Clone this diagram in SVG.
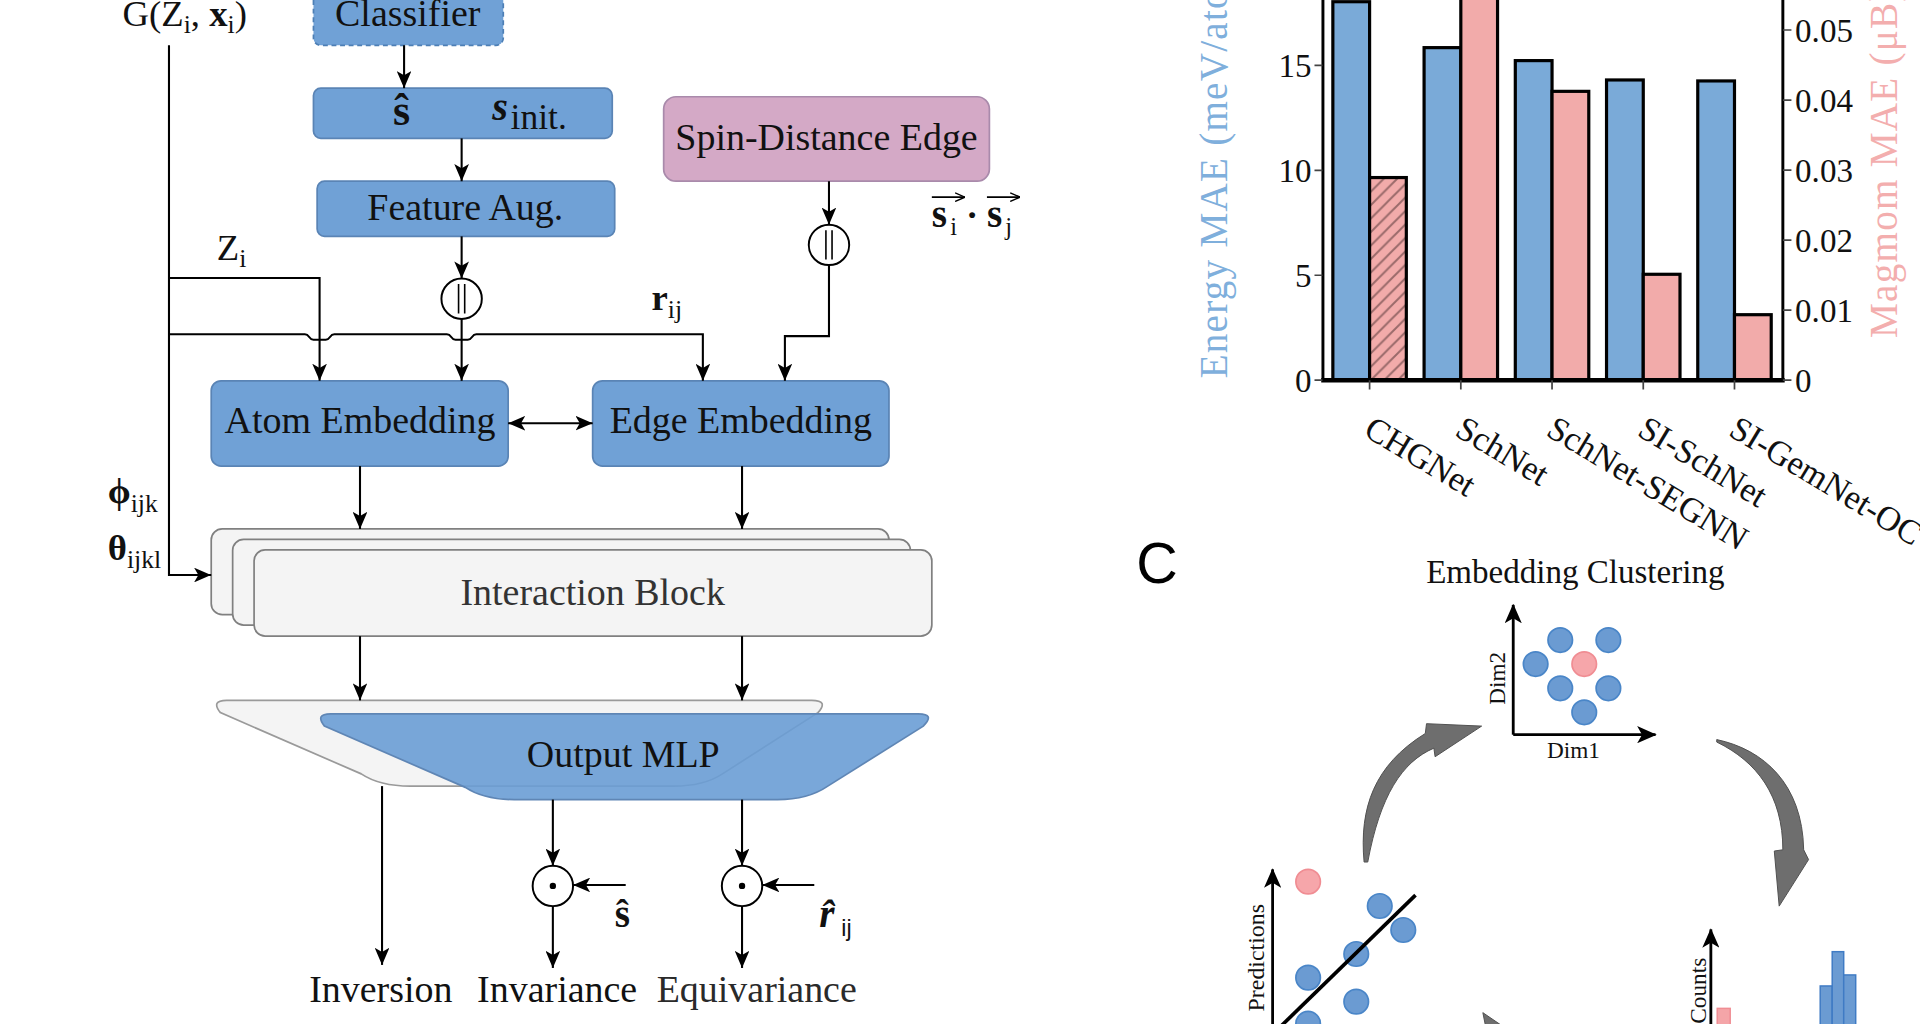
<svg xmlns="http://www.w3.org/2000/svg" width="1920" height="1024" viewBox="0 0 1920 1024">
<defs>
<style>
text { font-family: "Liberation Serif", "Times New Roman", serif; fill: #111; }
.box { fill: #70a1d6; stroke: #5a84b5; stroke-width: 1.4; }
.ib { fill: #f4f4f4; stroke: #808080; stroke-width: 1.4; }
.conn { fill: none; stroke: #000; stroke-width: 1.7; }
.lab { font-size: 31px; text-anchor: middle; }
.tick { font-size: 27px; }
.xt { font-size: 28px; }
.bar { stroke: #000; stroke-width: 2.6; }
.blue { fill: #7aaad8; }
.pink { fill: #f2abaa; }
.dotb { fill: #6b9bd2; stroke: #4a86c8; stroke-width: 1.4; }
.dotp { fill: #f6a6aa; stroke: #f08d93; stroke-width: 1.4; }
.garrow { fill: #6e6e6e; stroke: #4f4f4f; stroke-width: 0.8; }
.axis { fill: none; stroke: #000; stroke-width: 2.3; }
.vec { fill: none; stroke: #000; stroke-width: 1.3; }
</style>
<marker id="ah" viewBox="0 0 14 12" refX="14" refY="6" markerWidth="14" markerHeight="12" orient="auto-start-reverse" markerUnits="userSpaceOnUse">
<path d="M0,0 L14,6 L0,12 L3.5,6 Z" fill="#000"/>
</marker>
<marker id="ax" viewBox="0 0 16 14" refX="15" refY="7" markerWidth="16" markerHeight="14" orient="auto" markerUnits="userSpaceOnUse">
<path d="M0,0 L16,7 L0,14 L4,7 Z" fill="#000"/>
</marker>
<marker id="sm" viewBox="0 0 8 8" refX="8" refY="4" markerWidth="8" markerHeight="8" orient="auto" markerUnits="userSpaceOnUse">
<path d="M0,0.5 L8,4 L0,7.5" fill="none" stroke="#000" stroke-width="1.2"/>
</marker>
<pattern id="hatch" patternUnits="userSpaceOnUse" width="11" height="11">
<rect width="11" height="11" fill="#f2abaa"/>
<path d="M-1,1 L1,-1 M0,11 L11,0 M10,12 L12,10" stroke="#9a6a6a" stroke-width="1.6"/>
</pattern>
</defs>
<rect width="1920" height="1024" fill="#fff"/>
<g transform="scale(1.2244898)">

<!-- ===== Panel A: architecture ===== -->
<g id="input-G">
<text x="100" y="21" font-size="30">G(Z<tspan font-size="21" dy="6">i</tspan><tspan dy="-6">, </tspan><tspan font-weight="bold">x</tspan><tspan font-size="21" dy="6">i</tspan><tspan dy="-6">)</tspan></text>
</g>
<g id="node-classifier">
<rect x="256" y="-12" width="155" height="49" rx="6" fill="#70a1d6" stroke="#4d7fb5" stroke-width="1.4" stroke-dasharray="4 3"/>
<text class="lab" x="333" y="21">Classifier</text>
</g>
<g id="node-spin-init">
<rect class="box" x="256" y="72" width="244" height="41" rx="6"/>
<text x="328" y="102" font-size="36" font-weight="bold" text-anchor="middle">ŝ</text>
<text x="402" y="98" font-size="33" font-weight="bold" font-style="italic">s</text>
<text x="417" y="105" font-size="29">init.</text>
</g>
<g id="node-feature-aug">
<rect class="box" x="259" y="148" width="243" height="45" rx="6"/>
<text class="lab" x="380" y="180">Feature Aug.</text>
</g>
<g id="node-spin-distance">
<rect x="542" y="79" width="266" height="69" rx="10" fill="#d4a9c6" stroke="#a98aab" stroke-width="1.4"/>
<text class="lab" x="675" y="122.5">Spin-Distance Edge</text>
</g>
<g id="concat-1">
<circle cx="377" cy="244" r="16.5" fill="#fff" stroke="#000" stroke-width="1.6"/>
<path d="M374.5 232 V256 M379.5 232 V256" stroke="#000" stroke-width="1.3"/>
</g>
<g id="concat-2">
<circle cx="677" cy="200" r="16.5" fill="#fff" stroke="#000" stroke-width="1.6"/>
<path d="M674.5 188 V212 M679.5 188 V212" stroke="#000" stroke-width="1.3"/>
</g>
<g id="label-sisj">
<text x="761" y="185" font-size="32" font-weight="bold">s</text>
<text x="776" y="192" font-size="20">i</text>
<text x="789" y="185" font-size="30" font-weight="bold">·</text>
<text x="806" y="185" font-size="32" font-weight="bold">s</text>
<text x="821" y="192" font-size="20">j</text>
<path class="vec" d="M761 161 H788" marker-end="url(#sm)"/>
<path class="vec" d="M806 161 H833" marker-end="url(#sm)"/>
</g>
<g id="label-Zi"><text x="177" y="212" font-size="30">Z<tspan font-size="21" dy="6">i</tspan></text></g>
<g id="label-rij"><text x="532" y="253" font-size="30" font-weight="bold">r<tspan font-size="21" font-weight="normal" dy="7">ij</tspan></text></g>
<g id="label-phi"><text x="88" y="411" font-size="30" font-weight="bold">ϕ<tspan font-size="21" font-weight="normal" dy="7">ijk</tspan></text></g>
<g id="label-theta"><text x="88" y="457" font-size="30" font-weight="bold">θ<tspan font-size="21" font-weight="normal" dy="7">ijkl</tspan></text></g>

<g id="node-atom-embedding">
<rect class="box" x="172.5" y="311" width="242.5" height="69.6" rx="8"/>
<text class="lab" x="294" y="354">Atom Embedding</text>
</g>
<g id="node-edge-embedding">
<rect class="box" x="484" y="311" width="242" height="69.6" rx="8"/>
<text class="lab" x="605" y="354">Edge Embedding</text>
</g>
<g id="node-interaction-block">
<rect class="ib" x="172.5" y="432" width="553.5" height="70" rx="9"/>
<rect class="ib" x="190" y="440.5" width="553.5" height="70" rx="9"/>
<rect class="ib" x="207.5" y="449" width="553.5" height="70.5" rx="9"/>
<text class="lab" x="484" y="494" style="fill:#333">Interaction Block</text>
</g>
<g id="node-output-mlp">
<path d="M185 572 L663 572 Q677 572 668 582 L590 632 Q575 642 550 642 L335 642 Q310 642 295 632 L180 582 Q172 572 185 572 Z" fill="#f4f4f4" stroke="#9a9a9a" stroke-width="1.4"/>
<path d="M270 583 L750 583 Q764 583 754 593 L676 642 Q660 653 635 653 L420 653 Q395 653 380 643 L265 593 Q257 583 270 583 Z" fill="#6a9dd5" fill-opacity="0.9" stroke="#5f86b5" stroke-width="1.4"/>
<text class="lab" x="509" y="626">Output MLP</text>
</g>
<g id="op-invariance">
<circle cx="451.5" cy="723.5" r="16.5" fill="#fff" stroke="#000" stroke-width="1.6"/>
<circle cx="451.5" cy="723.5" r="2.6" fill="#000"/>
<text x="502" y="757" font-size="32" font-weight="bold">ŝ</text>
</g>
<g id="op-equivariance">
<circle cx="606" cy="723.5" r="16.5" fill="#fff" stroke="#000" stroke-width="1.6"/>
<circle cx="606" cy="723.5" r="2.6" fill="#000"/>
<text x="669" y="757" font-size="32" font-weight="bold" font-style="italic">r̂</text>
<text x="687" y="764" font-size="19" style="font-family:'Liberation Sans',Arial,sans-serif">ij</text>
</g>
<g id="outputs">
<text class="lab" x="311" y="818">Inversion</text>
<text class="lab" x="455" y="818">Invariance</text>
<text class="lab" x="618" y="818" style="fill:#2a2a2a">Equivariance</text>
</g>

<g id="connectors">
<path class="conn" d="M330 37 V72" marker-end="url(#ah)"/>
<path class="conn" d="M377 113 V148" marker-end="url(#ah)"/>
<path class="conn" d="M377 193 V227.5" marker-end="url(#ah)"/>
<path class="conn" d="M377 260.5 V311" marker-end="url(#ah)"/>
<path class="conn" d="M138 227 H261 V311" marker-end="url(#ah)"/>
<path class="conn" d="M138 273 H249 C253 273 252 277.5 256 277.5 L266 277.5 C270 277.5 269 273 273 273 H365 C369 273 368 277.5 372 277.5 L382 277.5 C386 277.5 385 273 389 273 H574 V311" marker-end="url(#ah)"/>
<path class="conn" d="M138 37 V469.6 H172.5" marker-end="url(#ah)"/>
<path class="conn" d="M677 148 V183.5" marker-end="url(#ah)"/>
<path class="conn" d="M677 216.5 V274.5 H641 V311" marker-end="url(#ah)"/>
<path class="conn" d="M415 345.6 H484" marker-start="url(#ah)" marker-end="url(#ah)"/>
<path class="conn" d="M294 380.6 V432" marker-end="url(#ah)"/>
<path class="conn" d="M606 380.6 V432" marker-end="url(#ah)"/>
<path class="conn" d="M294 519.5 V572" marker-end="url(#ah)"/>
<path class="conn" d="M606 519.5 V572" marker-end="url(#ah)"/>
<path class="conn" d="M312 642 V788" marker-end="url(#ah)"/>
<path class="conn" d="M451.5 653 V707" marker-end="url(#ah)"/>
<path class="conn" d="M451.5 740 V790.5" marker-end="url(#ah)"/>
<path class="conn" d="M511 722.7 H468" marker-end="url(#ah)"/>
<path class="conn" d="M606 653 V707" marker-end="url(#ah)"/>
<path class="conn" d="M606 740 V790.5" marker-end="url(#ah)"/>
<path class="conn" d="M665 722.7 H622.5" marker-end="url(#ah)"/>
</g>

<!-- ===== Panel B: bar chart ===== -->
<g id="chart">
<rect class="bar blue" x="1088.5" y="1.4" width="30" height="309.1"/>
<rect class="bar" x="1118.5" y="145" width="30" height="165.5" fill="url(#hatch)"/>
<rect class="bar blue" x="1163" y="38.9" width="30" height="271.6"/>
<rect class="bar pink" x="1193" y="-10" width="30" height="320.5"/>
<rect class="bar blue" x="1237.5" y="49.5" width="30" height="261"/>
<rect class="bar pink" x="1267.5" y="74.6" width="30" height="235.9"/>
<rect class="bar blue" x="1312" y="65.3" width="30" height="245.2"/>
<rect class="bar pink" x="1342" y="224" width="30" height="86.5"/>
<rect class="bar blue" x="1386.5" y="66.1" width="30" height="244.4"/>
<rect class="bar pink" x="1416.5" y="257" width="30" height="53.5"/>
<path d="M1080.4 -5 V310.5 M1456 -5 V310.5" stroke="#000" stroke-width="2.4" fill="none"/>
<path d="M1079 310.5 H1457.5" stroke="#000" stroke-width="3.6"/>
<path d="M1073.5 53.4 H1080 M1073.5 139.1 H1080 M1073.5 224.8 H1080 M1073.5 310.5 H1080 M1456 24.5 H1463 M1456 81.7 H1463 M1456 138.9 H1463 M1456 196.1 H1463 M1456 253.3 H1463 M1456 310.5 H1463 M1118.5 310.5 V318 M1193 310.5 V318 M1267.5 310.5 V318 M1342 310.5 V318 M1416.5 310.5 V318" stroke="#444" stroke-width="1.4"/>
<g text-anchor="end">
<text class="tick" x="1071" y="63">15</text>
<text class="tick" x="1071" y="148.6">10</text>
<text class="tick" x="1071" y="234.3">5</text>
<text class="tick" x="1071" y="320">0</text>
</g>
<text class="tick" x="1466" y="34">0.05</text>
<text class="tick" x="1466" y="91.2">0.04</text>
<text class="tick" x="1466" y="148.4">0.03</text>
<text class="tick" x="1466" y="205.6">0.02</text>
<text class="tick" x="1466" y="262.8">0.01</text>
<text class="tick" x="1466" y="320">0</text>
<text class="xt" transform="translate(1112.5,355) rotate(31)">CHGNet</text>
<text class="xt" transform="translate(1187,355) rotate(31)">SchNet</text>
<text class="xt" transform="translate(1261.5,355) rotate(31)">SchNet-SEGNN</text>
<text class="xt" transform="translate(1336,355) rotate(31)">SI-SchNet</text>
<text class="xt" transform="translate(1410.5,355) rotate(31)">SI-GemNet-OC</text>
<text transform="translate(1002,309) rotate(-90)" font-size="32" letter-spacing="1" style="fill:#7fafdc">Energy MAE (meV/atom)</text>
<text transform="translate(1549,276) rotate(-90)" font-size="32" letter-spacing="1" style="fill:#f3aeae">Magmom MAE (μB)</text>
</g>

<!-- ===== Panel C ===== -->
<g id="panel-C-label"><text x="928" y="476" font-size="47" style="font-family:'Liberation Sans',Arial,sans-serif;fill:#000">C</text></g>
<g id="node-embedding-clustering">
<text x="1286.5" y="476" font-size="27" text-anchor="middle">Embedding Clustering</text>
<path class="axis" d="M1235.8 600 V494" marker-end="url(#ax)"/>
<path class="axis" d="M1235.8 600 H1352" marker-end="url(#ax)"/>
<text transform="translate(1229,554) rotate(-90)" font-size="19" text-anchor="middle">Dim2</text>
<text x="1285" y="619" font-size="19" text-anchor="middle">Dim1</text>
<circle class="dotb" cx="1274.2" cy="522.7" r="10"/>
<circle class="dotb" cx="1313.5" cy="522.7" r="10"/>
<circle class="dotb" cx="1254.1" cy="542.3" r="10"/>
<circle class="dotp" cx="1293.8" cy="542.3" r="10"/>
<circle class="dotb" cx="1274.2" cy="562.1" r="10"/>
<circle class="dotb" cx="1313.5" cy="562.1" r="10"/>
<circle class="dotb" cx="1293.8" cy="581.7" r="10"/>
</g>
<g id="node-predictions">
<path class="axis" d="M1039.3 850 V710" marker-end="url(#ax)"/>
<text transform="translate(1032,826) rotate(-90)" font-size="19.5">Predictions</text>
<circle class="dotp" cx="1068.3" cy="720" r="10"/>
<circle class="dotb" cx="1126.8" cy="739.9" r="10"/>
<circle class="dotb" cx="1146" cy="759.5" r="10"/>
<circle class="dotb" cx="1107.6" cy="779.1" r="10"/>
<circle class="dotb" cx="1068.3" cy="798.4" r="10"/>
<circle class="dotb" cx="1107.6" cy="818" r="10"/>
<circle class="dotb" cx="1068.3" cy="836" r="10"/>
<path d="M1156 731 L1040 844" stroke="#000" stroke-width="3"/>
</g>
<g id="node-counts">
<path class="axis" d="M1397.2 850 V759" marker-end="url(#ax)"/>
<text transform="translate(1393,836) rotate(-90)" font-size="19">Counts</text>
<rect x="1402.4" y="823.5" width="10.6" height="30" fill="#f4a5a8" stroke="#f08d93" stroke-width="1.2"/>
<rect x="1486.5" y="805.2" width="9.8" height="50" fill="#6b9bd2" stroke="#3f7bc4" stroke-width="1.2"/>
<rect x="1496.3" y="777.2" width="9.4" height="80" fill="#6b9bd2" stroke="#3f7bc4" stroke-width="1.2"/>
<rect x="1505.7" y="796.2" width="9.8" height="60" fill="#6b9bd2" stroke="#3f7bc4" stroke-width="1.2"/>
</g>
<g id="cycle-arrows">
<path class="garrow" d="M1114 704 C1110 660 1122 625 1164 599 L1165 591 L1210 593 L1172 618 L1171 611 C1145 622 1127 650 1117 704 Z"/>
<path class="garrow" d="M1402 604 C1440 612 1472 640 1473 694 L1477 702 L1453 740 L1449 695 L1456 694 C1456 650 1435 622 1402 606 Z"/>
<path class="garrow" d="M1211 827 L1233 842 L1214 842 Z"/>
</g>
</g>
</svg>
